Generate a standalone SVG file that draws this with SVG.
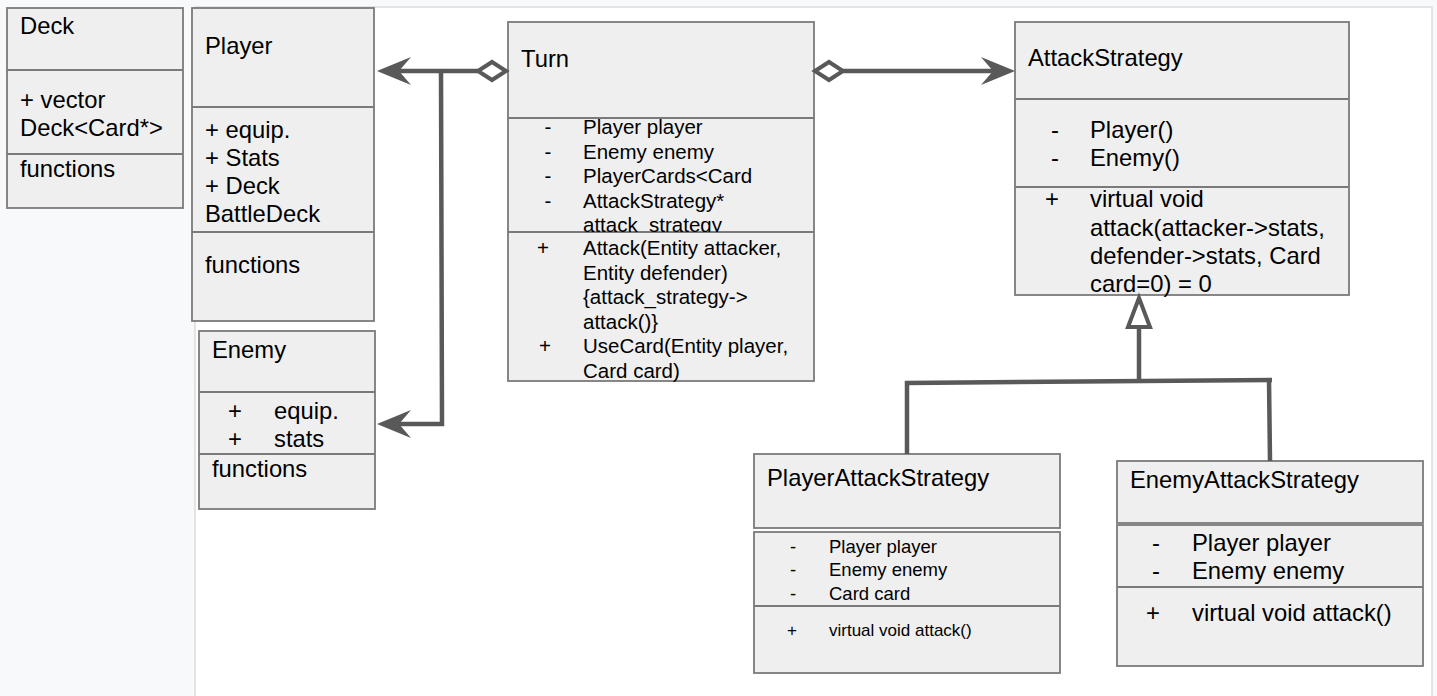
<svg xmlns="http://www.w3.org/2000/svg" width="1437" height="696" viewBox="0 0 1437 696">
<defs>
<style>
.box{fill:#efefef;stroke:#7a7a7a;stroke-width:1.8}
.div{stroke:#7a7a7a;stroke-width:1.8}
text{font-family:"Liberation Sans",Arial,sans-serif;fill:#000}
.b{font-size:23.8px}
.m{font-size:20.5px}
.s{font-size:18.5px}
.xs{font-size:17px}
.c{text-anchor:middle}
.ln{fill:none;stroke:#595959;stroke-width:4.5}
.ah{fill:#595959;stroke:none}
.dm{fill:#fff;stroke:#595959;stroke-width:4}
</style>
<clipPath id="turnAttr"><rect x="508" y="118" width="306" height="114"/></clipPath>
</defs>
<rect x="0" y="0" width="1437" height="696" fill="#f8f9fa"/>
<rect x="195" y="7" width="1237" height="700" fill="#ffffff" stroke="#dadce0" stroke-width="1.5"/>

<g id="deck">
<rect class="box" x="7" y="8" width="176" height="200"/>
<line class="div" x1="7" y1="70" x2="183" y2="70"/>
<line class="div" x1="7" y1="154" x2="183" y2="154"/>
<text class="b" x="20" y="34">Deck</text>
<text class="b" x="20" y="108">+ vector</text>
<text class="b" x="20" y="136">Deck&lt;Card*&gt;</text>
<text class="b" x="20" y="177">functions</text>
</g>

<g id="player">
<rect class="box" x="192" y="8" width="182" height="313"/>
<line class="div" x1="192" y1="107" x2="374" y2="107"/>
<line class="div" x1="192" y1="232" x2="374" y2="232"/>
<text class="b" x="205" y="54">Player</text>
<text class="b" x="205" y="138">+ equip.</text>
<text class="b" x="205" y="166">+ Stats</text>
<text class="b" x="205" y="194">+ Deck</text>
<text class="b" x="205" y="222">BattleDeck</text>
<text class="b" x="205" y="273">functions</text>
</g>

<g id="enemy">
<rect class="box" x="199" y="331" width="176" height="178"/>
<line class="div" x1="199" y1="392" x2="375" y2="392"/>
<line class="div" x1="199" y1="454" x2="375" y2="454"/>
<text class="b" x="212" y="358">Enemy</text>
<text class="b c" x="235" y="419">+</text>
<text class="b" x="274" y="419">equip.</text>
<text class="b c" x="235" y="447">+</text>
<text class="b" x="274" y="447">stats</text>
<text class="b" x="212" y="477">functions</text>
</g>

<g id="turn">
<rect class="box" x="508" y="22" width="306" height="359"/>
<line class="div" x1="508" y1="118" x2="814" y2="118"/>
<line class="div" x1="508" y1="232" x2="814" y2="232"/>
<text class="b" x="521" y="67">Turn</text>
<g clip-path="url(#turnAttr)">
<text class="m c" x="548" y="134">-</text><text class="m" x="583" y="134">Player player</text>
<text class="m c" x="548" y="159">-</text><text class="m" x="583" y="159">Enemy enemy</text>
<text class="m c" x="548" y="183">-</text><text class="m" x="583" y="183">PlayerCards&lt;Card</text>
<text class="m c" x="548" y="208">-</text><text class="m" x="583" y="208">AttackStrategy*</text>
<text class="m" x="583" y="232">attack_strategy</text>
</g>
<text class="m c" x="543" y="255">+</text><text class="m" x="583" y="255">Attack(Entity attacker,</text>
<text class="m" x="583" y="280">Entity defender)</text>
<text class="m" x="583" y="304">{attack_strategy-&gt;</text>
<text class="m" x="583" y="329">attack()}</text>
<text class="m c" x="545" y="353">+</text><text class="m" x="583" y="353">UseCard(Entity player,</text>
<text class="m" x="583" y="378">Card card)</text>
</g>

<g id="attackStrategy">
<rect class="box" x="1015" y="22" width="334" height="273"/>
<line class="div" x1="1015" y1="99" x2="1349" y2="99"/>
<line class="div" x1="1015" y1="187" x2="1349" y2="187"/>
<text class="b" x="1028" y="66">AttackStrategy</text>
<text class="b c" x="1055" y="138">-</text><text class="b" x="1090" y="138">Player()</text>
<text class="b c" x="1055" y="166">-</text><text class="b" x="1090" y="166">Enemy()</text>
<text class="b c" x="1052" y="207">+</text><text class="b" x="1090" y="207">virtual void</text>
<text class="b" x="1090" y="236">attack(attacker-&gt;stats,</text>
<text class="b" x="1090" y="264">defender-&gt;stats, Card</text>
<text class="b" x="1090" y="292">card=0) = 0</text>
</g>

<g id="playerAttackStrategy">
<rect class="box" x="754" y="454" width="306" height="74"/>
<rect class="box" x="754" y="532" width="306" height="141"/>
<line class="div" x1="754" y1="606" x2="1060" y2="606"/>
<text class="b" x="767" y="486">PlayerAttackStrategy</text>
<text class="s c" x="793" y="553">-</text><text class="s" x="829" y="553">Player player</text>
<text class="s c" x="793" y="576">-</text><text class="s" x="829" y="576">Enemy enemy</text>
<text class="s c" x="793" y="600">-</text><text class="s" x="829" y="600">Card card</text>
<text class="xs c" x="792" y="636">+</text><text class="xs" x="829" y="636">virtual void attack()</text>
</g>

<g id="enemyAttackStrategy">
<rect class="box" x="1117" y="461" width="306" height="62"/>
<rect class="box" x="1117" y="525" width="306" height="141"/>
<line class="div" x1="1117" y1="587" x2="1423" y2="587"/>
<text class="b" x="1130" y="488">EnemyAttackStrategy</text>
<text class="b c" x="1156" y="551">-</text><text class="b" x="1192" y="551">Player player</text>
<text class="b c" x="1156" y="579">-</text><text class="b" x="1192" y="579">Enemy enemy</text>
<text class="b c" x="1153" y="621">+</text><text class="b" x="1192" y="621">virtual void attack()</text>
</g>

<g id="connectors">
<polyline class="ln" points="478,71 395,71"/>
<polyline class="ln" points="441,71 442,424 395,424"/>
<path class="ah" d="M377,71 L411,57 L399,71 L411,85 Z"/>
<path class="ah" d="M377,424 L411,410 L399,424 L411,438 Z"/>
<path class="dm" d="M478,71 L492,62 L506,71 L492,80 Z"/>
<polyline class="ln" points="843,71 998,71"/>
<path class="ah" d="M1015,71 L981,57 L993,71 L981,85 Z"/>
<path class="dm" d="M815,71 L829,62 L843,71 L829,80 Z"/>
<polyline class="ln" points="907,454 907,383 1272,380"/>
<polyline class="ln" points="1269,380 1270,461"/>
<polyline class="ln" points="1139,381 1139,327"/>
<path class="dm" d="M1139,298 L1150,327 L1128,327 Z"/>
</g>
</svg>
